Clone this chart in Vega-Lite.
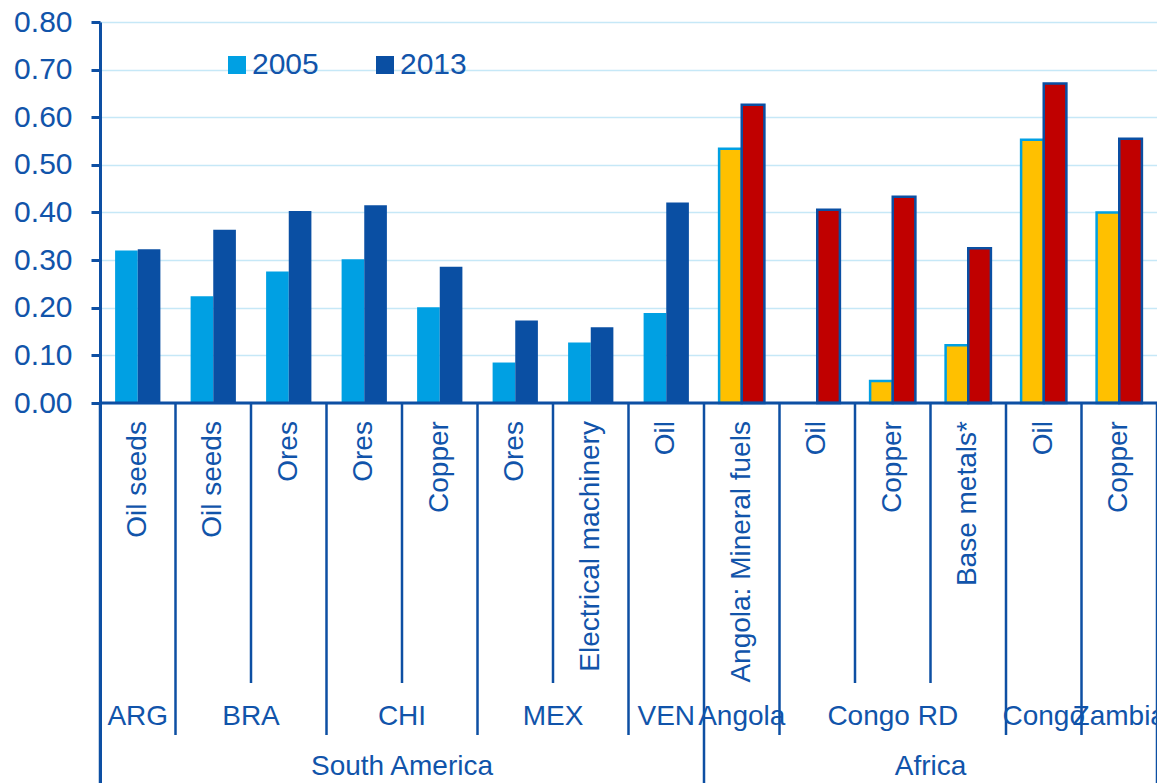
{
  "$schema": "https://vega.github.io/schema/vega-lite/v6.json",
  "autosize": "none",
  "width": 1057,
  "height": 762,
  "padding": {"left": 100, "top": 22, "right": 0, "bottom": 0},
  "background": "white",
  "config": {
    "view": {"stroke": null},
    "font": "Liberation Sans",
    "text": {"font": "Liberation Sans", "fontSize": 28, "color": "#1154AA", "fill": "#1154AA"}
  },
  "datasets": {
    "bars": [
      {"id": "ARG Oil seeds", "region": "South America", "year": "2005", "value": 0.320},
      {"id": "ARG Oil seeds", "region": "South America", "year": "2013", "value": 0.323},
      {"id": "BRA Oil seeds", "region": "South America", "year": "2005", "value": 0.224},
      {"id": "BRA Oil seeds", "region": "South America", "year": "2013", "value": 0.364},
      {"id": "BRA Ores", "region": "South America", "year": "2005", "value": 0.276},
      {"id": "BRA Ores", "region": "South America", "year": "2013", "value": 0.403},
      {"id": "CHI Ores", "region": "South America", "year": "2005", "value": 0.302},
      {"id": "CHI Ores", "region": "South America", "year": "2013", "value": 0.415},
      {"id": "CHI Copper", "region": "South America", "year": "2005", "value": 0.201},
      {"id": "CHI Copper", "region": "South America", "year": "2013", "value": 0.286},
      {"id": "MEX Ores", "region": "South America", "year": "2005", "value": 0.085},
      {"id": "MEX Ores", "region": "South America", "year": "2013", "value": 0.173},
      {"id": "MEX Electrical machinery", "region": "South America", "year": "2005", "value": 0.127},
      {"id": "MEX Electrical machinery", "region": "South America", "year": "2013", "value": 0.159},
      {"id": "VEN Oil", "region": "South America", "year": "2005", "value": 0.189},
      {"id": "VEN Oil", "region": "South America", "year": "2013", "value": 0.421},
      {"id": "Angola Mineral fuels", "region": "Africa", "year": "2005", "value": 0.534},
      {"id": "Angola Mineral fuels", "region": "Africa", "year": "2013", "value": 0.626},
      {"id": "Congo RD Oil", "region": "Africa", "year": "2005", "value": 0},
      {"id": "Congo RD Oil", "region": "Africa", "year": "2013", "value": 0.406},
      {"id": "Congo RD Copper", "region": "Africa", "year": "2005", "value": 0.046},
      {"id": "Congo RD Copper", "region": "Africa", "year": "2013", "value": 0.433},
      {"id": "Congo RD Base metals", "region": "Africa", "year": "2005", "value": 0.121},
      {"id": "Congo RD Base metals", "region": "Africa", "year": "2013", "value": 0.325},
      {"id": "Congo Oil", "region": "Africa", "year": "2005", "value": 0.553},
      {"id": "Congo Oil", "region": "Africa", "year": "2013", "value": 0.671},
      {"id": "Zambia Copper", "region": "Africa", "year": "2005", "value": 0.400},
      {"id": "Zambia Copper", "region": "Africa", "year": "2013", "value": 0.555}
    ],
    "cats": [
      {"id": "ARG Oil seeds", "product": "Oil seeds", "start": "region"},
      {"id": "BRA Oil seeds", "product": "Oil seeds", "start": "country"},
      {"id": "BRA Ores", "product": "Ores", "start": "product"},
      {"id": "CHI Ores", "product": "Ores", "start": "country"},
      {"id": "CHI Copper", "product": "Copper", "start": "product"},
      {"id": "MEX Ores", "product": "Ores", "start": "country"},
      {"id": "MEX Electrical machinery", "product": "Electrical machinery", "start": "product"},
      {"id": "VEN Oil", "product": "Oil", "start": "country"},
      {"id": "Angola Mineral fuels", "product": "Angola: Mineral fuels", "start": "region"},
      {"id": "Congo RD Oil", "product": "Oil", "start": "country"},
      {"id": "Congo RD Copper", "product": "Copper", "start": "product"},
      {"id": "Congo RD Base metals", "product": "Base metals*", "start": "product"},
      {"id": "Congo Oil", "product": "Oil", "start": "country"},
      {"id": "Zambia Copper", "product": "Copper", "start": "country"}
    ],
    "groups": [
      {"label": "ARG", "level": "country", "span": 1, "mid": "ARG Oil seeds"},
      {"label": "BRA", "level": "country", "span": 2, "mid": "BRA Ores"},
      {"label": "CHI", "level": "country", "span": 2, "mid": "CHI Copper"},
      {"label": "MEX", "level": "country", "span": 2, "mid": "MEX Electrical machinery"},
      {"label": "VEN", "level": "country", "span": 1, "mid": "VEN Oil"},
      {"label": "Angola", "level": "country", "span": 1, "mid": "Angola Mineral fuels"},
      {"label": "Congo RD", "level": "country", "span": 3, "mid": "Congo RD Copper"},
      {"label": "Congo", "level": "country", "span": 1, "mid": "Congo Oil"},
      {"label": "Zambia", "level": "country", "span": 1, "mid": "Zambia Copper"},
      {"label": "South America", "level": "region", "span": 8, "mid": "CHI Copper"},
      {"label": "Africa", "level": "region", "span": 6, "mid": "Congo RD Base metals"}
    ]
  },
  "layer": [
    {
      "data": {"name": "bars"},
      "transform": [{"filter": "datum.region === 'South America'"}],
      "mark": {"type": "bar"},
      "encoding": {
        "x": {
          "field": "id", "type": "nominal", "axis": null,
          "scale": {
            "domain": ["ARG Oil seeds", "BRA Oil seeds", "BRA Ores", "CHI Ores", "CHI Copper", "MEX Ores", "MEX Electrical machinery", "VEN Oil", "Angola Mineral fuels", "Congo RD Oil", "Congo RD Copper", "Congo RD Base metals", "Congo Oil", "Zambia Copper"],
            "paddingInner": 0, "paddingOuter": 0
          }
        },
        "xOffset": {"field": "year", "type": "nominal", "scale": {"domain": ["2005", "2013"], "paddingInner": 0, "paddingOuter": 0.667}},
        "y": {
          "field": "value", "type": "quantitative",
          "scale": {"domain": [-0.8, 0.8], "nice": false, "zero": false},
          "axis": {
            "title": null, "values": [0, 0.1, 0.2, 0.3, 0.4, 0.5, 0.6, 0.7, 0.8], "format": ".2f",
            "labelFont": "Liberation Sans", "labelFontSize": 30, "labelColor": "#1154AA",
            "labelPadding": 19, "tickSize": 9, "tickColor": "#0D4FA3", "tickWidth": 3,
            "domainColor": "#0D4FA3", "domainWidth": 3,
            "grid": true, "gridColor": "#C6E8F7", "gridWidth": 1.5
          }
        },
        "fill": {
          "field": "year", "type": "nominal",
          "scale": {"domain": ["2005", "2013"], "range": ["#00A0E3", "#0A4FA3"]},
          "legend": {
            "orient": "none", "legendX": 122, "legendY": 28, "direction": "horizontal",
            "title": null, "symbolType": "square", "symbolSize": 324, "symbolStrokeWidth": 0,
            "labelFont": "Liberation Sans", "labelFontSize": 30, "labelColor": "#1154AA",
            "labelOffset": 0, "columnPadding": 51, "padding": 0
          }
        }
      }
    },
    {
      "data": {"name": "bars"},
      "transform": [{"filter": "datum.region === 'Africa' && datum.value > 0"}],
      "mark": {"type": "bar", "strokeWidth": 2.5},
      "encoding": {
        "x": {"field": "id", "type": "nominal", "axis": null},
        "xOffset": {"field": "year", "type": "nominal", "scale": {"domain": ["2005", "2013"], "paddingInner": 0, "paddingOuter": 0.667}},
        "y": {"field": "value", "type": "quantitative"},
        "fill": {"field": "year", "type": "nominal", "scale": {"domain": ["2005", "2013"], "range": ["#FFC000", "#C00000"]}, "legend": null},
        "stroke": {"field": "year", "type": "nominal", "scale": {"domain": ["2005", "2013"], "range": ["#00A0E3", "#0A4FA3"]}, "legend": null}
      }
    },
    {
      "data": {"values": [{}]},
      "mark": {"type": "rule", "color": "#0D4FA3", "strokeWidth": 3},
      "encoding": {"y": {"datum": 0}}
    },
    {
      "data": {"name": "cats"},
      "transform": [{"filter": "datum.start === 'product'"}],
      "mark": {"type": "rule", "color": "#0D4FA3", "strokeWidth": 2.5},
      "encoding": {
        "x": {"field": "id", "type": "nominal", "bandPosition": 0, "axis": null},
        "y": {"datum": 0},
        "y2": {"datum": -0.588}
      }
    },
    {
      "data": {"name": "cats"},
      "transform": [{"filter": "datum.start === 'country'"}],
      "mark": {"type": "rule", "color": "#0D4FA3", "strokeWidth": 2.5},
      "encoding": {
        "x": {"field": "id", "type": "nominal", "bandPosition": 0, "axis": null},
        "y": {"datum": 0},
        "y2": {"datum": -0.697}
      }
    },
    {
      "data": {"name": "cats"},
      "transform": [{"filter": "datum.start === 'region'"}],
      "mark": {"type": "rule", "color": "#0D4FA3", "strokeWidth": 2.5},
      "encoding": {
        "x": {"field": "id", "type": "nominal", "bandPosition": 0, "axis": null},
        "y": {"datum": 0},
        "y2": {"datum": -0.8}
      }
    },
    {
      "data": {"name": "cats"},
      "transform": [{"filter": "datum.id === 'Zambia Copper'"}],
      "mark": {"type": "rule", "color": "#0D4FA3", "strokeWidth": 2.5},
      "encoding": {
        "x": {"field": "id", "type": "nominal", "bandPosition": 1, "axis": null},
        "y": {"datum": 0},
        "y2": {"datum": -0.8}
      }
    },
    {
      "data": {"name": "cats"},
      "mark": {"type": "text", "angle": 270, "align": "right", "baseline": "middle", "fontSize": 28},
      "encoding": {
        "x": {"field": "id", "type": "nominal", "axis": null},
        "y": {"datum": -0.038},
        "text": {"field": "product"}
      }
    },
    {
      "data": {"name": "groups"},
      "transform": [{"filter": "datum.level === 'country' && datum.span % 2 === 1"}],
      "mark": {"type": "text", "align": "center", "baseline": "middle", "fontSize": 28},
      "encoding": {
        "x": {"field": "mid", "type": "nominal", "axis": null},
        "y": {"datum": -0.66},
        "text": {"field": "label"}
      }
    },
    {
      "data": {"name": "groups"},
      "transform": [{"filter": "datum.level === 'country' && datum.span % 2 === 0"}],
      "mark": {"type": "text", "align": "center", "baseline": "middle", "fontSize": 28},
      "encoding": {
        "x": {"field": "mid", "type": "nominal", "bandPosition": 0, "axis": null},
        "y": {"datum": -0.66},
        "text": {"field": "label"}
      }
    },
    {
      "data": {"name": "groups"},
      "transform": [{"filter": "datum.level === 'region'"}],
      "mark": {"type": "text", "align": "center", "baseline": "middle", "fontSize": 28},
      "encoding": {
        "x": {"field": "mid", "type": "nominal", "bandPosition": 0, "axis": null},
        "y": {"datum": -0.765},
        "text": {"field": "label"}
      }
    }
  ],
  "resolve": {"scale": {"fill": "independent", "stroke": "independent"}, "legend": {"fill": "independent"}}
}
